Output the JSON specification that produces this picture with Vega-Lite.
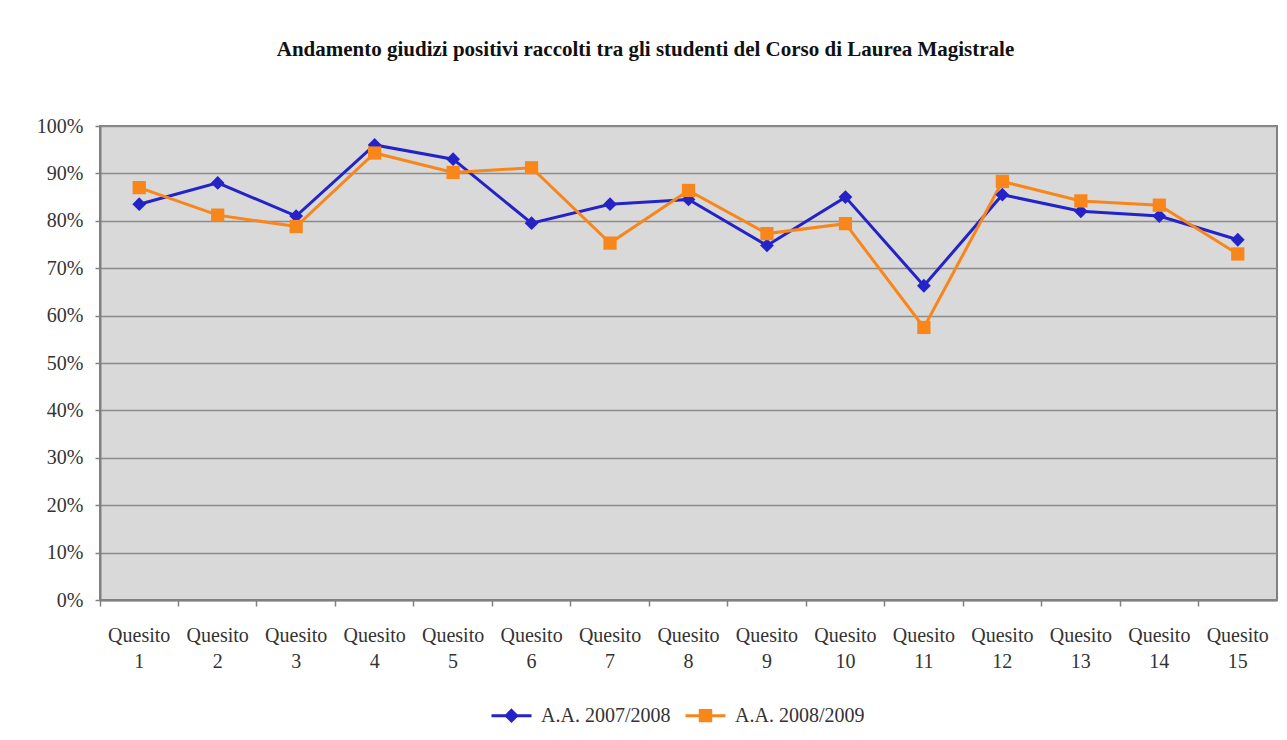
{
  "$schema": "https://vega.github.io/schema/vega-lite/v6.json",
  "width": 1177,
  "height": 474,
  "autosize": {"type": "none"},
  "padding": {"left": 100, "top": 126, "right": 10, "bottom": 140},
  "background": "white",
  "title": {
    "text": "Andamento giudizi positivi raccolti tra gli studenti del Corso di Laurea Magistrale",
    "font": "Liberation Serif",
    "fontSize": 21,
    "fontWeight": "bold",
    "color": "#111111",
    "anchor": "middle",
    "dx": -43,
    "offset": 56
  },
  "data": {
    "values": [
      {"q": "Quesito 1", "serie": "A.A. 2007/2008", "v": 0.835},
      {"q": "Quesito 2", "serie": "A.A. 2007/2008", "v": 0.880},
      {"q": "Quesito 3", "serie": "A.A. 2007/2008", "v": 0.810},
      {"q": "Quesito 4", "serie": "A.A. 2007/2008", "v": 0.960},
      {"q": "Quesito 5", "serie": "A.A. 2007/2008", "v": 0.930},
      {"q": "Quesito 6", "serie": "A.A. 2007/2008", "v": 0.795},
      {"q": "Quesito 7", "serie": "A.A. 2007/2008", "v": 0.835},
      {"q": "Quesito 8", "serie": "A.A. 2007/2008", "v": 0.845},
      {"q": "Quesito 9", "serie": "A.A. 2007/2008", "v": 0.748},
      {"q": "Quesito 10", "serie": "A.A. 2007/2008", "v": 0.850},
      {"q": "Quesito 11", "serie": "A.A. 2007/2008", "v": 0.663},
      {"q": "Quesito 12", "serie": "A.A. 2007/2008", "v": 0.855},
      {"q": "Quesito 13", "serie": "A.A. 2007/2008", "v": 0.820},
      {"q": "Quesito 14", "serie": "A.A. 2007/2008", "v": 0.810},
      {"q": "Quesito 15", "serie": "A.A. 2007/2008", "v": 0.760},
      {"q": "Quesito 1", "serie": "A.A. 2008/2009", "v": 0.870},
      {"q": "Quesito 2", "serie": "A.A. 2008/2009", "v": 0.812},
      {"q": "Quesito 3", "serie": "A.A. 2008/2009", "v": 0.788},
      {"q": "Quesito 4", "serie": "A.A. 2008/2009", "v": 0.943},
      {"q": "Quesito 5", "serie": "A.A. 2008/2009", "v": 0.902},
      {"q": "Quesito 6", "serie": "A.A. 2008/2009", "v": 0.912},
      {"q": "Quesito 7", "serie": "A.A. 2008/2009", "v": 0.753},
      {"q": "Quesito 8", "serie": "A.A. 2008/2009", "v": 0.864},
      {"q": "Quesito 9", "serie": "A.A. 2008/2009", "v": 0.773},
      {"q": "Quesito 10", "serie": "A.A. 2008/2009", "v": 0.794},
      {"q": "Quesito 11", "serie": "A.A. 2008/2009", "v": 0.575},
      {"q": "Quesito 12", "serie": "A.A. 2008/2009", "v": 0.883},
      {"q": "Quesito 13", "serie": "A.A. 2008/2009", "v": 0.842},
      {"q": "Quesito 14", "serie": "A.A. 2008/2009", "v": 0.833},
      {"q": "Quesito 15", "serie": "A.A. 2008/2009", "v": 0.730}
    ]
  },
  "encoding": {
    "x": {
      "field": "q",
      "type": "nominal",
      "sort": null,
      "scale": {"type": "band", "paddingInner": 0, "paddingOuter": 0},
      "axis": {
        "title": null,
        "bandPosition": 0,
        "labelAngle": 0,
        "labelExpr": "split(datum.label, ' ')",
        "labelLineHeight": 26,
        "labelPadding": 19,
        "tickSize": 6,
        "tickColor": "#808080",
        "tickWidth": 1.5,
        "domainColor": "#808080",
        "domainWidth": 2,
        "labelFont": "Liberation Serif",
        "labelFontSize": 20,
        "labelColor": "#333333",
        "grid": false
      }
    },
    "y": {
      "field": "v",
      "type": "quantitative",
      "scale": {"domain": [0, 1]},
      "axis": {
        "title": null,
        "values": [0, 0.1, 0.2, 0.3, 0.4, 0.5, 0.6, 0.7, 0.8, 0.9, 1],
        "format": ".0%",
        "labelFont": "Liberation Serif",
        "labelFontSize": 20,
        "labelColor": "#333333",
        "labelPadding": 12,
        "tickSize": 5,
        "tickColor": "#808080",
        "tickWidth": 1.5,
        "domainColor": "#808080",
        "domainWidth": 2,
        "grid": true,
        "gridColor": "#8c8c8c",
        "gridWidth": 1.5
      }
    },
    "color": {
      "field": "serie",
      "type": "nominal",
      "scale": {"domain": ["A.A. 2007/2008", "A.A. 2008/2009"], "range": ["#2323c8", "#f8861a"]},
      "legend": {
        "title": null,
        "orient": "none",
        "direction": "horizontal",
        "legendX": 390,
        "legendY": 568,
        "symbolType": "M-1,0H1",
        "symbolSize": 1600,
        "symbolStrokeWidth": 3,
        "labelFont": "Liberation Serif",
        "labelFontSize": 20,
        "labelColor": "#333333",
        "labelOffset": 8,
        "columnPadding": 8,
        "encode": {
          "symbols": {
            "update": {
              "shape": {"signal": "datum.value === 'A.A. 2007/2008' ? 'M-1,0H1M0,-0.26L0.26,0L0,0.26L-0.26,0Z' : 'M-1,0H1M-0.26,-0.26H0.26V0.26H-0.26Z'"},
              "stroke": {"signal": "datum.value === 'A.A. 2007/2008' ? '#2323c8' : '#f8861a'"},
              "fill": {"signal": "datum.value === 'A.A. 2007/2008' ? '#2323c8' : '#f8861a'"},
              "strokeWidth": {"value": 3},
              "opacity": {"value": 1},
              "fillOpacity": {"value": 1},
              "strokeOpacity": {"value": 1}
            }
          }
        }
      }
    }
  },
  "layer": [
    {
      "mark": {"type": "line", "strokeWidth": 3}
    },
    {
      "mark": {"type": "point", "filled": true, "opacity": 1},
      "encoding": {
        "shape": {
          "condition": {"test": "datum.serie === 'A.A. 2007/2008'", "value": "diamond"},
          "value": "square"
        },
        "size": {
          "condition": {"test": "datum.serie === 'A.A. 2007/2008'", "value": 190},
          "value": 175
        }
      }
    }
  ],
  "config": {
    "view": {"fill": "#d9d9d9", "stroke": "#808080", "strokeWidth": 2}
  }
}
